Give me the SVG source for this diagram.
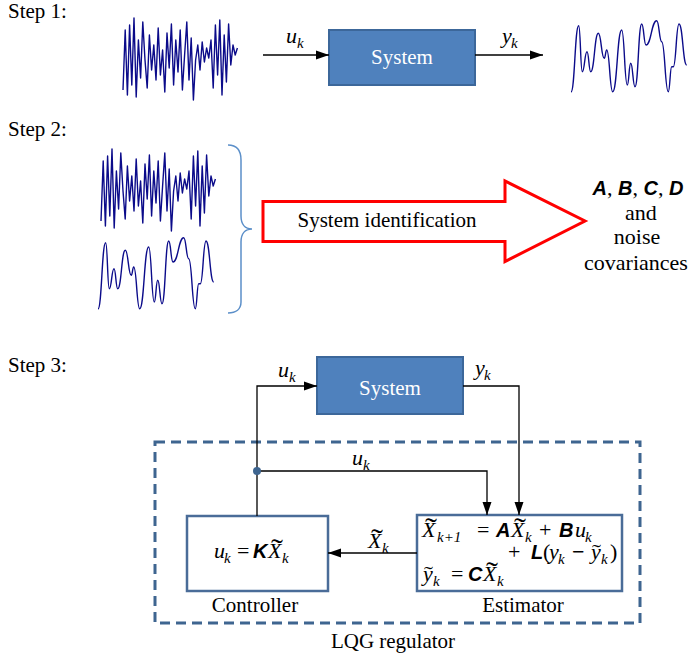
<svg xmlns="http://www.w3.org/2000/svg" width="692" height="655" viewBox="0 0 692 655">
<style>
text{font-family:"Liberation Serif","Times New Roman",serif;font-size:21px;fill:#000}
.big{font-family:"Liberation Serif","Times New Roman",serif;font-size:22px}
.m{font-family:"Liberation Serif","Times New Roman",serif;font-size:22px}
.it{font-family:"Liberation Serif","Times New Roman",serif;font-style:italic;font-size:22px}
.sub{font-family:"Liberation Serif","Times New Roman",serif;font-style:italic;font-size:15px}
.tl{font-family:"Liberation Serif","Times New Roman",serif;font-style:normal;font-size:28px}
.tls{font-family:"Liberation Serif","Times New Roman",serif;font-style:normal;font-size:20px}
.mb{font-family:"Liberation Sans",Arial,sans-serif;font-weight:bold;font-style:italic;font-size:20px}
.sys{fill:#4F81BD;stroke:#3C679A;stroke-width:2}
.sysT{fill:#fff;text-anchor:middle}
.box{fill:#fff;stroke:#4A6C98;stroke-width:2.5}
.conn{fill:none;stroke:#000;stroke-width:1.3}
.sig{fill:none;stroke:#0B0B8A;stroke-width:1.4;stroke-linejoin:round}
</style>
<defs>
<marker id="ah" markerUnits="userSpaceOnUse" markerWidth="14" markerHeight="10" refX="13" refY="5" orient="auto">
<path d="M0,0.5 L13,5 L0,9.5 Z" fill="#000"/>
</marker>
<polyline id="noise" class="sig" points="123,90 125.2,30 127.4,95 129.6,25 131.8,85 134,18 136.2,97 138.4,40 140.6,78 142.8,22 145,60 147.2,88 149.4,35 151.6,70 153.8,45 156,80 158.2,28 160.4,75 162.6,50 164.8,92 167,33 169.2,68 171.4,24 173.6,85 175.8,40 178,72 180.2,30 182.4,90 184.6,55 186.8,22 189,80 191.2,38 193.4,100 195.6,60 197.8,45 200,70 202.2,42 204.4,62 206.6,48 208.8,58 211,40 213.2,88 215.4,25 217.6,75 219.8,20 222,95 224.2,35 226.4,82 228.6,24 230.8,65 233,45 235.2,55 237.4,48"/>
<path id="smooth" class="sig" d="M571,92 C574.85,92 574.85,25.7 578.7,25.7 C580.5,25.7 580.5,71.7 582.3,71.7 C584.65,71.7 584.65,51.7 587,51.7 C588.85,51.7 588.85,71.7 590.7,71.7 C594.5,71.7 594.5,33.3 598.3,33.3 C601.3,33.3 601.3,58.3 604.3,58.3 C605.5,58.3 605.5,50 606.7,50 C609.7,50 609.7,91.7 612.7,91.7 C617.2,91.7 617.2,30 621.7,30 C624.5,30 624.5,85 627.3,85 C629,85 629,63.3 630.7,63.3 C632.85,63.3 632.85,86.7 635,86.7 C638.35,86.7 638.35,24 641.7,24 C643.85,24 643.85,45 646,45 C651.35,45 651.35,20.7 656.7,20.7 C659.2,20.7 659.2,41.7 661.7,41.7 C665,41.7 665,91.7 668.3,91.7 C670,91.7 670,66.7 671.7,66.7 L673.3,66.7 C676.15,66.7 676.15,24 679,24 C682.85,24 682.85,65 686.7,65"/>
</defs>

<!-- Step labels -->
<text x="8" y="18">Step 1:</text>
<text x="8" y="136">Step 2:</text>
<text x="8" y="372">Step 3:</text>

<!-- Step 1 -->
<use href="#noise"/>
<use href="#smooth"/>
<g id="system1">
<rect class="sys" x="329" y="30" width="146" height="55"/>
<text class="sysT" x="402" y="64">System</text>
</g>

<!-- Step 2 -->
<use href="#noise" transform="translate(-22,131)"/>
<use href="#smooth" transform="translate(-473,217)"/>
<path d="M228,145 C236,145 241,150 241,160 L241,216 C241,224 245,229 252,229 C245,229 241,234 241,242 L241,302 C241,309 236,313 228,313" fill="none" stroke="#5B8FC9" stroke-width="1.5"/>
<g id="sysid">
<polygon points="263,201.5 505,201.5 505,181 585,221 505,261.5 505,241.5 263,241.5" fill="#fff" stroke="#FF0000" stroke-width="3"/>
<text x="387" y="227" text-anchor="middle">System identification</text>
</g>
<g id="result">
<text x="638" y="195" text-anchor="middle" class="big"><tspan class="mb">A</tspan>, <tspan class="mb">B</tspan>, <tspan class="mb">C</tspan>, <tspan class="mb">D</tspan></text>
<text x="641" y="220" text-anchor="middle" class="big">and</text>
<text x="637" y="244" text-anchor="middle" class="big">noise</text>
<text x="636" y="270" text-anchor="middle" class="big">covariances</text>
</g>

<!-- Step 3 -->
<g id="lqg">
<rect x="155" y="442" width="485" height="181" fill="none" stroke="#3E6590" stroke-width="3" stroke-dasharray="10 6"/>
<text x="393" y="648" text-anchor="middle">LQG regulator</text>
</g>
<g id="system2">
<rect class="sys" x="317" y="357" width="146" height="57"/>
<text class="sysT" x="390" y="395">System</text>
</g>
<g id="controller">
<rect class="box" x="187" y="516" width="141" height="75"/>
<text x="214" y="558"><tspan class="it" x="214" y="558">u</tspan><tspan class="sub" x="224" y="563">k</tspan><tspan class="m" x="237" y="558">=</tspan><tspan class="mb" x="253" y="558">K</tspan><tspan class="it" x="268" y="558">X</tspan><tspan class="tl" x="271" y="558" textLength="12" lengthAdjust="spacingAndGlyphs">˜</tspan><tspan class="sub" x="282" y="563">k</tspan></text>
<text x="255" y="612" text-anchor="middle">Controller</text>
</g>
<g id="estimator">
<rect class="box" x="417" y="515" width="205" height="76"/>
<text x="422" y="537"><tspan class="it" x="422" y="537">X</tspan><tspan class="tl" x="425" y="537" textLength="12" lengthAdjust="spacingAndGlyphs">˜</tspan><tspan class="sub" x="437" y="542">k+1</tspan><tspan class="m" x="477" y="537">=</tspan><tspan class="mb" x="496" y="537">A</tspan><tspan class="it" x="511" y="537">X</tspan><tspan class="tl" x="514" y="537" textLength="12" lengthAdjust="spacingAndGlyphs">˜</tspan><tspan class="sub" x="525" y="542">k</tspan><tspan class="m" x="539" y="537">+</tspan><tspan class="mb" x="559" y="537">B</tspan><tspan class="it" x="575" y="537">u</tspan><tspan class="sub" x="585" y="542">k</tspan></text>
<text x="508" y="559"><tspan class="m" x="508" y="559">+</tspan><tspan class="mb" x="531" y="559">L</tspan><tspan class="m" x="543" y="559">(</tspan><tspan class="it" x="549" y="559">y</tspan><tspan class="sub" x="558" y="564">k</tspan><tspan class="m" x="572" y="559" style="font-weight:bold">−</tspan><tspan class="it" x="591" y="559">y</tspan><tspan class="tls" x="592" y="559" textLength="9" lengthAdjust="spacingAndGlyphs">˜</tspan><tspan class="sub" x="601" y="564">k</tspan><tspan class="m" x="610" y="559">)</tspan></text>
<text x="423" y="581"><tspan class="it" x="423" y="581">y</tspan><tspan class="tls" x="424" y="581" textLength="9" lengthAdjust="spacingAndGlyphs">˜</tspan><tspan class="sub" x="433" y="586">k</tspan><tspan class="m" x="451" y="581">=</tspan><tspan class="mb" x="468" y="581">C</tspan><tspan class="it" x="483" y="581">X</tspan><tspan class="tl" x="486" y="581" textLength="12" lengthAdjust="spacingAndGlyphs">˜</tspan><tspan class="sub" x="497" y="586">k</tspan></text>
<text x="523" y="612" text-anchor="middle">Estimator</text>
</g>

<g id="connectors">
<path class="conn" d="M263,55 H329" marker-end="url(#ah)"/>
<path class="conn" d="M475,55 H543" marker-end="url(#ah)"/>
<path class="conn" d="M257,516 V386 H317" marker-end="url(#ah)"/>
<path class="conn" d="M463,386 H519 V515" marker-end="url(#ah)"/>
<path class="conn" d="M257,471 H487 V515" marker-end="url(#ah)"/>
<path class="conn" d="M417,553 H328" marker-end="url(#ah)"/>
<circle cx="257" cy="471" r="4" fill="#3E6590"/>
</g>
<g id="labels">
<text x="286" y="43"><tspan class="it">u</tspan><tspan class="sub" x="297" y="48">k</tspan></text>
<text x="502" y="43"><tspan class="it">y</tspan><tspan class="sub" x="511" y="48">k</tspan></text>
<text x="278" y="377"><tspan class="it">u</tspan><tspan class="sub" x="289" y="382">k</tspan></text>
<text x="475" y="375"><tspan class="it">y</tspan><tspan class="sub" x="484" y="380">k</tspan></text>
<text x="352" y="465"><tspan class="it">u</tspan><tspan class="sub" x="363" y="470">k</tspan></text>
<text x="368" y="548"><tspan class="it" x="368" y="548">X</tspan><tspan class="tl" x="371" y="548" textLength="12" lengthAdjust="spacingAndGlyphs">˜</tspan><tspan class="sub" x="382" y="553">k</tspan></text>
</g>
</svg>
